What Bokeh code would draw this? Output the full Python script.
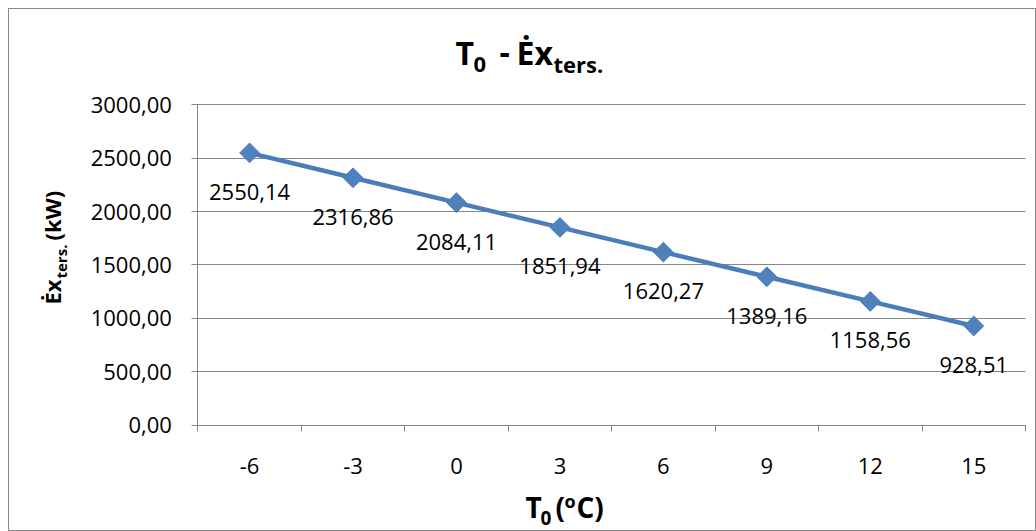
import numpy as np
from bokeh.plotting import figure
from bokeh.models import Range1d, FixedTicker, Label
from bokeh.core.properties import value
from bokeh.embed import file_html
from bokeh.resources import INLINE

# ---- data ----
temps = [-6, -3, 0, 3, 6, 9, 12, 15]
exergy = [2550.14, 2316.86, 2084.11, 1851.94, 1620.27, 1389.16, 1158.56, 928.51]
y_ticks = [0, 500, 1000, 1500, 2000, 2500, 3000]
x_labels = ["-6", "-3", "0", "3", "6", "9", "12", "15"]

FONT = "Open Sans"
BLUE = "#4A7EBB"
GRAY = "#868686"

def fmt(v):
    return f"{v:.2f}".replace(".", ",")

# ---- layout (window pixels) ----
OX, OY = 9, 9            # canvas origin inside the 1px chart border
W, H = 1026, 521
PL, PR, PT, PB = 197, 1023, 104, 423   # plot-area edges

xlo, xhi = temps[0] - 1.5, temps[-1] + 1.5
ylo, yhi = y_ticks[0], y_ticks[-1]
sx = (PR - PL) / (xhi - xlo)
sy = (PB - PT) / (yhi - ylo)
x0 = xlo - (PL - OX) / sx
x1 = x0 + W / sx
y1 = yhi + (PT - OY) / sy
y0 = ylo - ((OY + H) - PB) / sy

p = figure(width=W, height=H, output_backend="svg", toolbar_location=None,
           x_range=Range1d(x0, x1), y_range=Range1d(y0, y1),
           min_border=0)
p.margin = (8, 0, 0, 8)
p.styles = {"border": "1px solid #898989", "box-sizing": "content-box"}
p.outline_line_color = None
p.background_fill_color = "white"
p.border_fill_color = "white"

# y axis
p.yaxis.fixed_location = xlo
p.yaxis.bounds = (ylo, yhi)
p.yaxis.ticker = FixedTicker(ticks=y_ticks)
p.yaxis.major_label_overrides = {t: fmt(t) for t in y_ticks}
p.yaxis.axis_line_color = GRAY
p.yaxis.major_tick_line_color = GRAY
p.yaxis.major_tick_out = 6
p.yaxis.major_tick_in = 0
p.yaxis.minor_tick_line_color = None
p.yaxis.major_label_standoff = 20
p.yaxis.major_label_text_font = FONT
p.yaxis.major_label_text_font_size = "22px"
p.yaxis.major_label_text_color = "black"

# x axis
bounds = [t - 1.5 for t in temps] + [temps[-1] + 1.5]
p.xaxis.fixed_location = ylo
p.xaxis.bounds = (xlo, xhi)
p.xaxis.ticker = FixedTicker(ticks=temps, minor_ticks=bounds)
p.xaxis.major_label_overrides = {t: s for t, s in zip(temps, x_labels)}
p.xaxis.axis_line_color = GRAY
p.xaxis.major_tick_line_color = None
p.xaxis.major_tick_out = 0
p.xaxis.major_tick_in = 0
p.xaxis.minor_tick_line_color = GRAY
p.xaxis.minor_tick_out = 6
p.xaxis.minor_tick_in = 0
p.xaxis.major_label_standoff = 27
p.xaxis.major_label_text_font = FONT
p.xaxis.major_label_text_font_size = "22px"
p.xaxis.major_label_text_color = "black"

# horizontal gridlines limited to the plot area
p.xgrid.visible = False
grid = p.ygrid[0]
if "cross_bounds" in grid.properties():
    grid.ticker = FixedTicker(ticks=y_ticks)
    grid.cross_bounds = (xlo, xhi)
    grid.grid_line_color = GRAY
    grid.grid_line_width = 1
else:
    grid.visible = False
    n = len(y_ticks)
    p.segment(x0=[xlo] * n, y0=y_ticks, x1=[xhi] * n, y1=y_ticks,
              line_color=GRAY, line_width=1)

# series
p.line(temps, exergy, line_color=BLUE, line_width=4.5)
p.scatter(temps, exergy, marker="square", angle=np.pi / 4, size=14,
          fill_color="#4F81BD", line_color=BLUE, line_width=1)
p.text(temps, exergy, text=[fmt(v) for v in exergy], text_align="center",
       text_baseline="middle", y_offset=39, text_font_size="22px",
       text_font=value(FONT), text_color="black")

# ---- text annotations positioned in window pixels (X, baseline) ----
K = 0.41   # observed offset of Label anchor above the glyph baseline (fraction of size)

def lab(text, X, Yb, size):
    p.add_layout(Label(x=X - OX, y=(OY + H) - (Yb - K * size),
                       x_units="screen", y_units="screen",
                       text=text, text_font=FONT, text_font_size=f"{size}px",
                       text_font_style="bold", text_align="left",
                       text_baseline="alphabetic", text_color="black"))

def vlab(text, Xb, Y, size):
    p.add_layout(Label(x=(Xb - K * size) - OX, y=(OY + H) - Y,
                       x_units="screen", y_units="screen",
                       text=text, text_font=FONT, text_font_size=f"{size}px",
                       text_font_style="bold", text_align="left",
                       text_baseline="alphabetic", angle=np.pi / 2,
                       text_color="black"))

# title  T0 - Ėx_ters.
lab("T", 455, 63, 32)
lab("0", 473, 71, 22)
lab("-", 499, 63, 32)
lab("Ėx", 516, 63, 32)
lab("ters.", 553, 71, 22)

# x axis title  T0 (ºC)
lab("T", 525, 516, 28)
lab("0", 540, 523, 19)
lab("(", 555, 516, 28)
lab("o", 564, 506, 18)
lab("C)", 576, 516, 28)

# y axis title  Ėx_ters. (kW)
vlab("Ėx", 61, 302, 22)
vlab("ters.", 67, 276, 15)
vlab("(kW)", 61, 238, 22)

open("out.html", "w").write(file_html(p, INLINE))
